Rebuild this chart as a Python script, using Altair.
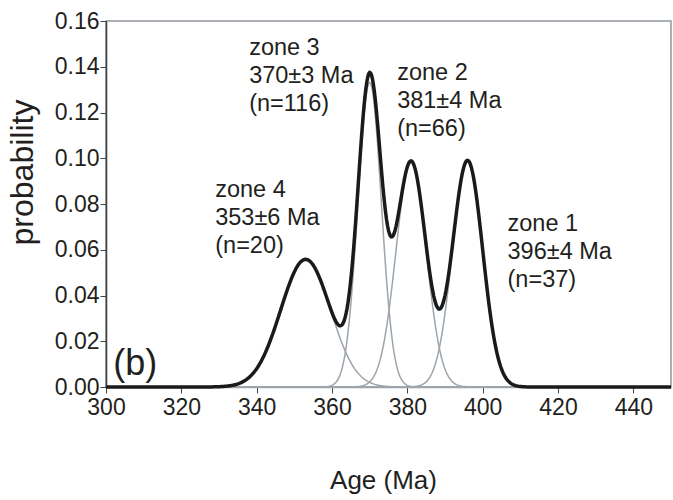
import altair as alt
import pandas as pd

# ---- data ----
zones = ["zone 1", "zone 2", "zone 3", "zone 4"]
means = [396.0, 381.0, 370.0, 353.0]      # Ma (component centres)
sigmas = [4.0, 4.0, 3.1, 6.6]             # Ma (component widths)
peaks = [0.099, 0.0985, 0.1332, 0.0558]   # probability at component peak

label_text = ["zone 1\n396±4 Ma\n(n=37)", "zone 2\n381±4 Ma\n(n=66)",
              "zone 3\n370±3 Ma\n(n=116)", "zone 4\n353±6 Ma\n(n=20)"]
label_age = [406.6, 377.3, 338.0, 329.0]
label_prob = [0.0682, 0.1342, 0.1451, 0.0831]

x_ticks = [300, 320, 340, 360, 380, 400, 420, 440]
y_ticks = [0.00, 0.02, 0.04, 0.06, 0.08, 0.10, 0.12, 0.14, 0.16]

FONT = "Liberation Sans"
TXT = "#231f20"
GRAY = "#9da5ac"

# ---- curves via Vega-Lite transforms ----
base = alt.Chart(alt.sequence(300, 450.001, 0.25, as_="age"))
calcs = {}
for z, m, s, p in zip(zones, means, sigmas, peaks):
    calcs[z] = f"{p}*exp(-pow(datum.age-{m},2)/(2*{s}*{s}))"
total_expr = "+".join(f"datum['{z}']" for z in zones)

xenc = alt.X("age:Q", scale=alt.Scale(domain=[300, 450], nice=False),
             axis=alt.Axis(values=x_ticks, title="Age (Ma)", format="d",
                           domainColor="#9aa2a9", domainWidth=1.5,
                           tickColor="#444444", tickSize=6, tickWidth=1,
                           labelFontSize=23, labelPadding=3, labelColor=TXT,
                           labelFlush=False, labelOverlap=False,
                           labelFont=FONT, titleFont=FONT, titleFontSize=26,
                           titleFontWeight="normal", titleColor=TXT,
                           titlePadding=48, titleX=277, grid=False))
yenc = alt.Y("p:Q", scale=alt.Scale(domain=[0, 0.16], nice=False),
             axis=alt.Axis(values=y_ticks, title="probability", format=".2f",
                           domainColor="#3f3f3f", domainWidth=1.5,
                           tickColor="#444444", tickSize=6, tickWidth=1,
                           labelFontSize=23, labelPadding=1, labelColor=TXT,
                           labelFlush=False, labelOverlap=False,
                           labelFont=FONT, titleFont=FONT, titleFontSize=32,
                           titleFontWeight="normal", titleColor=TXT,
                           titleX=-67, titleY=151, grid=False))

comps = base.transform_calculate(**calcs).transform_fold(
    zones, as_=["zone", "p"]
).mark_line(color=GRAY, strokeWidth=1.5).encode(
    x=xenc, y=yenc, detail="zone:N"
)

total = base.transform_calculate(**calcs).transform_calculate(
    p=total_expr
).mark_line(color="#1a1a1a", strokeWidth=3.5).encode(
    x="age:Q", y="p:Q"
)

lab_df = pd.DataFrame({"label": label_text, "age": label_age, "p": label_prob})
labels = alt.Chart(lab_df).mark_text(
    align="left", baseline="alphabetic", lineBreak="\n", lineHeight=28,
    fontSize=23.5, font=FONT, color=TXT
).encode(x="age:Q", y="p:Q", text="label:N")

panel_df = pd.DataFrame({"label": ["(b)"], "age": [301.9], "p": [0.0052]})
panel = alt.Chart(panel_df).mark_text(
    align="left", baseline="alphabetic", fontSize=36, font=FONT, color=TXT
).encode(x="age:Q", y="p:Q", text="label:N")

chart = alt.layer(comps, total, labels, panel).properties(
    width=565, height=366,
    autosize=alt.AutoSizeParams(type="none"),
    padding={"left": 106, "top": 21, "right": 2, "bottom": 113},
    background="white",
).configure_view(stroke="#8f979e", strokeWidth=1.5)

chart.save("out.html", embed_options={"renderer": "svg", "actions": False})
